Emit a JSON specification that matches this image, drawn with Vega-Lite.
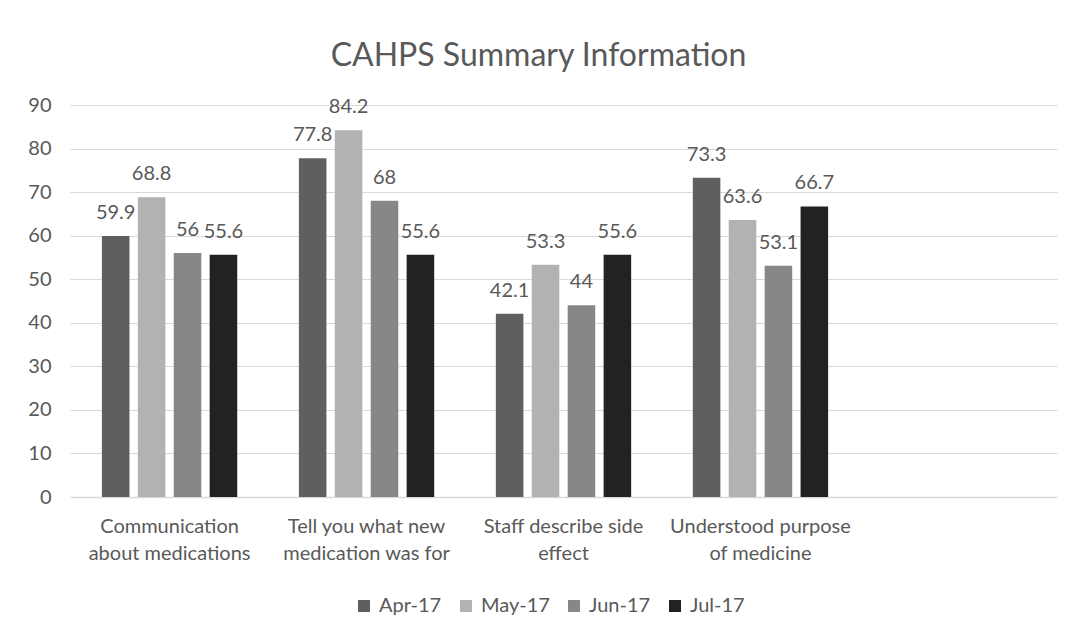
{
  "$schema": "https://vega.github.io/schema/vega-lite/v6.json",
  "width": 987,
  "height": 392,
  "padding": {"left": 20, "top": 40, "right": 15, "bottom": 10},
  "background": "white",
  "title": {
    "text": "CAHPS Summary Information",
    "font": "Lato",
    "fontSize": 32,
    "fontWeight": "normal",
    "color": "#595959",
    "anchor": "middle",
    "offset": 22,
    "dx": -25
  },
  "data": {
    "values": [
      {"item": "Communication|about medications", "month": "Apr-17", "value": 59.9},
      {"item": "Communication|about medications", "month": "May-17", "value": 68.8},
      {"item": "Communication|about medications", "month": "Jun-17", "value": 56},
      {"item": "Communication|about medications", "month": "Jul-17", "value": 55.6},
      {"item": "Tell you what new|medication was for", "month": "Apr-17", "value": 77.8},
      {"item": "Tell you what new|medication was for", "month": "May-17", "value": 84.2},
      {"item": "Tell you what new|medication was for", "month": "Jun-17", "value": 68},
      {"item": "Tell you what new|medication was for", "month": "Jul-17", "value": 55.6},
      {"item": "Staff describe side|effect", "month": "Apr-17", "value": 42.1},
      {"item": "Staff describe side|effect", "month": "May-17", "value": 53.3},
      {"item": "Staff describe side|effect", "month": "Jun-17", "value": 44},
      {"item": "Staff describe side|effect", "month": "Jul-17", "value": 55.6},
      {"item": "Understood purpose|of medicine", "month": "Apr-17", "value": 73.3},
      {"item": "Understood purpose|of medicine", "month": "May-17", "value": 63.6},
      {"item": "Understood purpose|of medicine", "month": "Jun-17", "value": 53.1},
      {"item": "Understood purpose|of medicine", "month": "Jul-17", "value": 66.7}
    ]
  },
  "encoding": {
    "x": {
      "field": "item",
      "type": "nominal",
      "sort": null,
      "scale": {
        "domain": ["Communication|about medications", "Tell you what new|medication was for", "Staff describe side|effect", "Understood purpose|of medicine", " "],
        "paddingInner": 0.313,
        "paddingOuter": 0.162
      },
      "axis": {
        "title": null,
        "labelAngle": 0,
        "labelExpr": "split(datum.label, '|')",
        "labelLineHeight": 27,
        "labelFont": "Lato",
        "labelFontSize": 20,
        "labelColor": "#595959",
        "labelPadding": 19,
        "labelLimit": 300,
        "ticks": false,
        "domainColor": "#d9d9d9",
        "domainWidth": 1.5
      }
    },
    "xOffset": {
      "field": "month",
      "type": "nominal",
      "sort": ["Apr-17", "May-17", "Jun-17", "Jul-17"],
      "scale": {"paddingInner": 0.233, "paddingOuter": 0}
    },
    "y": {
      "field": "value",
      "type": "quantitative",
      "scale": {"domain": [0, 90], "nice": false},
      "axis": {
        "title": null,
        "values": [0, 10, 20, 30, 40, 50, 60, 70, 80, 90],
        "domain": false,
        "ticks": false,
        "gridColor": "#d9d9d9",
        "gridWidth": 1.2,
        "labelFont": "Lato",
        "labelFontSize": 20,
        "labelColor": "#595959",
        "labelPadding": 19,
        "minExtent": 50,
        "maxExtent": 50
      }
    }
  },
  "layer": [
    {
      "mark": {"type": "bar"},
      "encoding": {
        "color": {
          "field": "month",
          "type": "nominal",
          "sort": ["Apr-17", "May-17", "Jun-17", "Jul-17"],
          "scale": {
            "domain": ["Apr-17", "May-17", "Jun-17", "Jul-17"],
            "range": ["#5f5f5f", "#b2b2b2", "#878787", "#222222"]
          },
          "legend": {
            "title": null,
            "orient": "none",
            "legendX": 284,
            "legendY": 491,
            "direction": "horizontal",
            "gridAlign": "none",
            "symbolType": "square",
            "symbolSize": 144,
            "symbolStrokeWidth": 0,
            "labelFont": "Lato",
            "labelFontSize": 20,
            "labelColor": "#595959",
            "columnPadding": 14,
            "labelOffset": 5
          }
        }
      }
    },
    {
      "mark": {
        "type": "text",
        "baseline": "bottom",
        "dy": -13,
        "font": "Lato",
        "fontSize": 20,
        "color": "#595959"
      },
      "encoding": {
        "text": {"field": "value", "type": "nominal"}
      }
    }
  ],
  "config": {
    "view": {"stroke": null},
    "axis": {"labelFont": "Lato"}
  }
}
